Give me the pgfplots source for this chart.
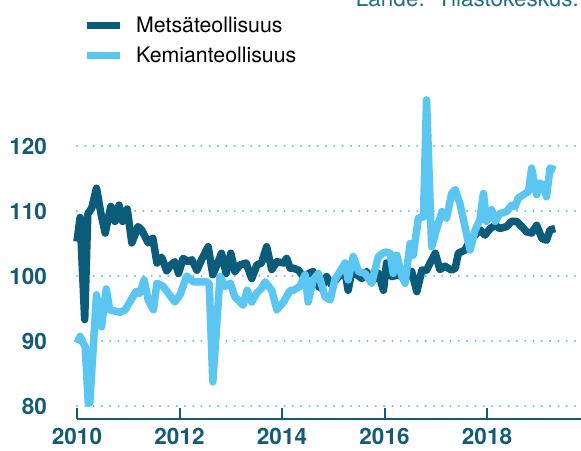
\documentclass[border=0pt]{standalone}
\usepackage{pgfplots}
\usepackage{pgfplotstable}
\pgfplotsset{compat=1.18}
\usepackage{fontspec}
\setmainfont{TeX Gyre Heros}
\definecolor{darkline}{HTML}{0B5B7A}
\definecolor{lightline}{HTML}{5CC6F2}
\definecolor{tickcol}{HTML}{135B78}
\definecolor{srccol}{HTML}{1F6E8E}

\pgfplotstableread{
x y
2010.00 105.3
2010.06 109.0
2010.15 93.3
2010.21 109.5
2010.29 110.5
2010.38 113.5
2010.47 109.5
2010.55 106.6
2010.66 110.7
2010.74 108.4
2010.82 110.9
2010.89 108.4
2010.98 110.3
2011.07 105.1
2011.19 107.6
2011.26 107.1
2011.39 105.1
2011.48 105.8
2011.56 102.0
2011.65 102.9
2011.75 100.8
2011.83 101.7
2011.91 102.2
2011.98 100.4
2012.07 102.7
2012.17 102.2
2012.24 102.5
2012.34 100.9
2012.43 102.5
2012.56 104.5
2012.65 100.2
2012.73 101.7
2012.82 103.5
2012.91 100.4
2013.00 103.5
2013.08 100.7
2013.18 101.7
2013.30 102.0
2013.41 99.6
2013.51 101.7
2013.60 102.0
2013.70 104.5
2013.80 101.0
2013.90 102.2
2014.03 102.0
2014.09 102.7
2014.16 101.2
2014.22 101.2
2014.32 100.9
2014.42 99.9
2014.48 100.2
2014.61 100.7
2014.71 98.4
2014.77 98.1
2014.87 99.9
2014.97 98.6
2015.10 99.9
2015.23 100.7
2015.29 97.8
2015.36 100.7
2015.46 100.2
2015.56 99.6
2015.65 100.7
2015.75 99.1
2015.88 100.4
2015.98 97.8
2016.04 102.0
2016.14 99.9
2016.27 100.2
2016.40 99.6
2016.53 100.7
2016.63 97.6
2016.73 100.9
2016.82 100.9
2016.89 102.0
2016.99 103.5
2017.08 101.0
2017.18 101.5
2017.31 100.9
2017.38 101.2
2017.44 103.5
2017.57 104.0
2017.67 105.5
2017.77 106.3
2017.86 107.1
2017.96 106.3
2018.06 107.3
2018.16 107.8
2018.25 107.3
2018.38 107.6
2018.48 108.4
2018.58 108.4
2018.68 107.6
2018.77 106.8
2018.87 106.6
2018.97 107.8
2019.07 105.8
2019.16 105.5
2019.23 107.1
2019.33 107.3
}\metsa

\pgfplotstableread{
x y
2010.00 89.7
2010.06 90.7
2010.16 89.1
2010.22 80.4
2010.25 80.5
2010.38 97.1
2010.48 92.2
2010.57 98.0
2010.64 94.8
2010.84 94.4
2010.94 94.8
2011.03 96.0
2011.15 97.6
2011.22 97.3
2011.31 99.4
2011.39 96.3
2011.49 94.8
2011.56 98.9
2011.68 98.4
2011.91 96.0
2012.01 97.1
2012.14 100.0
2012.27 99.1
2012.53 99.1
2012.58 98.8
2012.65 83.7
2012.79 99.9
2012.89 98.4
2012.99 98.9
2013.08 96.8
2013.24 95.5
2013.32 97.8
2013.41 96.0
2013.51 97.4
2013.60 98.1
2013.67 99.1
2013.80 97.8
2013.90 94.8
2014.03 96.0
2014.16 97.8
2014.22 97.8
2014.35 98.4
2014.45 100.2
2014.51 96.0
2014.61 99.4
2014.71 100.4
2014.84 96.8
2014.94 96.3
2015.03 99.4
2015.13 100.7
2015.23 102.0
2015.29 99.4
2015.39 103.0
2015.49 100.7
2015.62 100.4
2015.75 98.9
2015.88 103.0
2016.01 103.7
2016.11 103.5
2016.17 100.4
2016.24 103.2
2016.34 99.9
2016.40 98.9
2016.50 105.0
2016.56 103.2
2016.66 108.9
2016.76 109.1
2016.82 127.1
2016.92 104.5
2017.02 107.3
2017.12 109.9
2017.21 108.9
2017.31 112.7
2017.38 113.3
2017.47 111.2
2017.57 107.6
2017.67 104.0
2017.77 107.1
2017.86 108.6
2017.93 112.7
2017.99 108.4
2018.09 110.2
2018.16 108.4
2018.25 109.6
2018.38 109.9
2018.48 110.9
2018.55 110.7
2018.61 112.0
2018.71 112.5
2018.81 113.0
2018.87 116.6
2018.97 112.5
2019.03 114.3
2019.10 114.0
2019.16 112.2
2019.23 116.6
2019.33 116.3
}\kemia

\begin{document}
\begin{tikzpicture}
\begin{axis}[
  at={(0,0)}, anchor=south west,
  scale only axis, width=504bp, height=325bp,
  xmin=2010, xmax=2019.834, ymin=78, ymax=128,
  clip=false,
  axis x line*=bottom, axis y line*=left,
  y axis line style={draw=none},
  x axis line style={tickcol, line width=2bp},
  xtick={2010,2012,2014,2016,2018},
  ytick={80,90,100,110,120},
  /pgf/number format/1000 sep={},
  /pgf/number format/assume math mode=true,
  tick align=inside,
  xtick style={tickcol, line width=2bp},
  major tick length=11bp,
  ytick style={draw=none},
  ticklabel style={font=\fontsize{22.5bp}{26bp}\selectfont\bfseries, text=tickcol},
  xticklabel style={inner sep=0pt, anchor=north, yshift=-9bp},
  yticklabel style={inner sep=0pt, anchor=east, xshift=-30bp},
  ymajorgrids,
  grid style={lightline, line width=2.3bp, dash pattern=on 0bp off 8.3bp, line cap=round},
  legend style={draw=none, fill=none, at={(0.012,1.237)}, anchor=north west,
    font=\fontsize{21.3bp}{25bp}\selectfont, inner sep=0pt, row sep=13bp,
    column sep=13bp, nodes={inner sep=0pt}},
  legend cell align=left,
  legend image code/.code={\draw[#1, line width=7bp] (0bp,0bp) -- (33bp,0bp);},
]
\addplot[darkline, line width=7.5bp, line join=round] table {\metsa};
\addlegendentry{Metsäteollisuus}
\addplot[lightline, line width=7.5bp, line join=round] table {\kemia};
\addlegendentry{Kemianteollisuus}
\end{axis}
\node[anchor=base east, font=\fontsize{22.5bp}{26bp}\selectfont, text=srccol, inner sep=0pt] at (502bp,412bp) {Lähde:\ \ Tilastokeskus.};
\pgfresetboundingbox
\useasboundingbox (-77bp,-32bp) rectangle (504bp,419bp);
\end{tikzpicture}
\end{document}
